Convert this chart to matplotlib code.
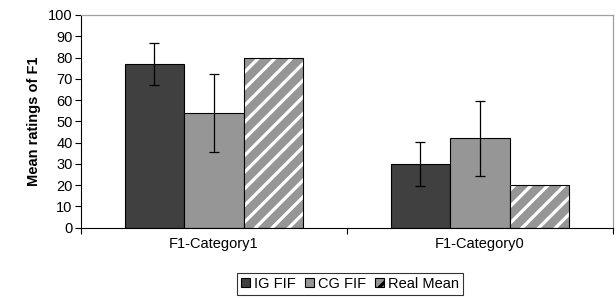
import numpy as np
import matplotlib
matplotlib.use("Agg")
import matplotlib.pyplot as plt
from matplotlib.patches import Patch

plt.rcParams['font.family'] = ['Liberation Sans', 'DejaVu Sans']
plt.rcParams['hatch.linewidth'] = 2.3

categorias = ["F1-Category1", "F1-Category0"]
series = ["IG FIF", "CG FIF", "Real Mean"]
ig = [77, 30]
ig_err = [10, 10.5]
cg = [54, 42]
cg_err = [18.3, 17.7]
real = [80, 20]

fig = plt.figure(figsize=(6.16, 2.98), dpi=100)
ax = fig.add_axes([81 / 616, 1 - 227.7 / 298, 532 / 616, 212.7 / 298])

x = np.arange(len(categorias))
w = 0.224

ax.bar(x - w, ig, w, color="#404040", edgecolor="black", linewidth=0.8, zorder=2)
ax.errorbar(x - w, ig, yerr=ig_err, fmt="none", ecolor="black", elinewidth=0.9, capsize=3.5, capthick=0.9, zorder=3)
ax.bar(x, cg, w, color="#969696", edgecolor="black", linewidth=0.8, zorder=2)
ax.errorbar(x, cg, yerr=cg_err, fmt="none", ecolor="black", elinewidth=0.9, capsize=3.5, capthick=0.9, zorder=3)
ax.bar(x + w, real, w, color="#969696", edgecolor="white", hatch="//", linewidth=0, zorder=2)
ax.bar(x + w, real, w, color="none", edgecolor="black", linewidth=0.8, zorder=3)

ax.set_xlim(-0.5, 1.5)
ax.set_ylim(0, 100)
ax.set_yticks(range(0, 101, 10))
ax.set_xticks(x)
ax.set_xticklabels(categorias, fontsize=10.5)
ax.set_xticks([-0.5, 0.5, 1.5], minor=True)
ax.tick_params(axis="x", which="major", length=0, pad=7)
ax.tick_params(axis="x", which="minor", length=4, width=0.8, direction="out")
ax.tick_params(axis="y", labelsize=10.5, length=4, width=0.8, direction="out", pad=2)
ax.set_ylabel("Mean ratings of F1", fontsize=10.5, fontweight="bold", labelpad=5)

for lado in ["top", "right"]:
    ax.spines[lado].set_color("#a0a0a0")
    ax.spines[lado].set_linewidth(0.9)
for lado in ["left", "bottom"]:
    ax.spines[lado].set_color("black")
    ax.spines[lado].set_linewidth(0.8)

handles = [
    Patch(facecolor="#404040", edgecolor="black", linewidth=0.8),
    Patch(facecolor="#969696", edgecolor="black", linewidth=0.8),
    Patch(facecolor="#969696", edgecolor="black", hatch="//", linewidth=0.8),
]
leg = fig.legend(handles, series, loc="center", bbox_to_anchor=(350 / 616, 1 - 284 / 298), ncol=3,
                 fontsize=10.5, frameon=True, fancybox=False, handlelength=0.6, handleheight=0.6,
                 handletextpad=0.3, columnspacing=0.6, borderpad=0.25, borderaxespad=0)
leg.get_frame().set_edgecolor("black")
leg.get_frame().set_linewidth(0.8)

fig.savefig("out.png", dpi=100)
